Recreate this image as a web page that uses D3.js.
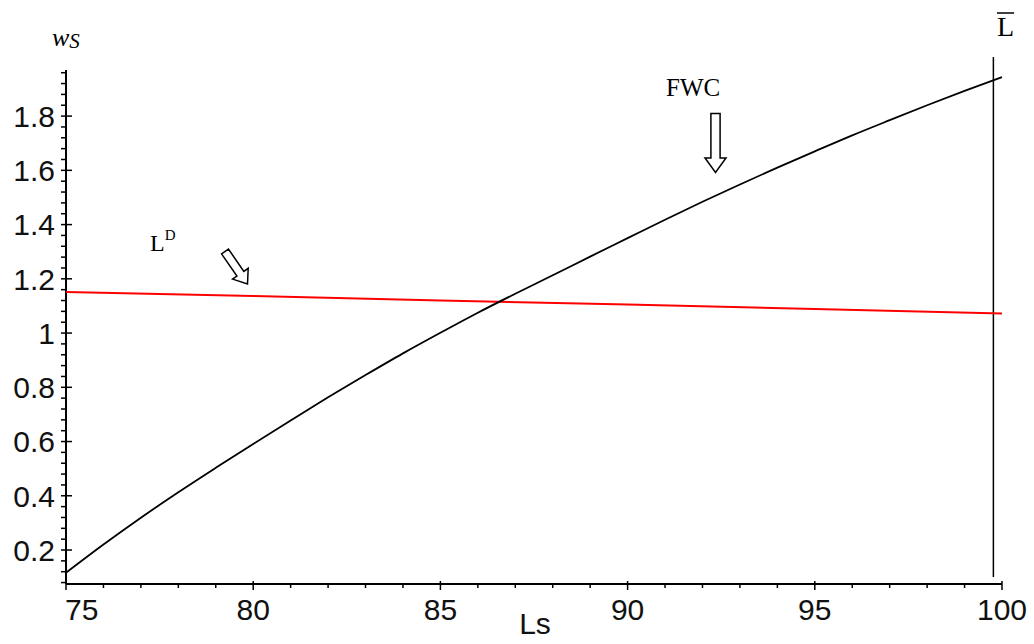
<!DOCTYPE html>
<html>
<head>
<meta charset="utf-8">
<script src="https://cdn.jsdelivr.net/npm/d3@7"></script>
<style>
  html, body { margin: 0; padding: 0; background: #fff; }
  svg { display: block; }
  .tick-label { font-family: "Liberation Sans", Arial, sans-serif; font-size: 30px; fill: #111; }
  .serif { font-family: "Liberation Serif", "Times New Roman", serif; fill: #000; }
</style>
</head>
<body>
<svg id="chart" width="1034" height="644"></svg>
<script>
// ---- data ----
const lsValues = [75,76,77,78,79,80,81,82,83,84,85,86,87,88,89,90,91,92,93,94,95,96,97,98,99,100];
const fwcValues = [0.116,0.220,0.319,0.413,0.503,0.591,0.678,0.763,0.845,0.925,1.001,1.075,1.145,
                   1.213,1.282,1.350,1.418,1.484,1.548,1.610,1.670,1.729,1.785,1.840,1.893,1.944];
const ldLs = [75, 80, 85, 90, 95, 100];
const ldValues = [1.151, 1.137, 1.120, 1.105, 1.089, 1.072];
const lBar = 99.77;
const xTickValues = [75, 80, 85, 90, 95, 100];
const yTickValues = [0.2, 0.4, 0.6, 0.8, 1, 1.2, 1.4, 1.6, 1.8];
const yTickLabels = ["0.2", "0.4", "0.6", "0.8", "1", "1.2", "1.4", "1.6", "1.8"];

// ---- layout ----
const svg = d3.select("#chart");
const pLeft = 66, pRight = 1002, pTop = 70, pBottom = 584;
const x = d3.scaleLinear().domain([75, 100]).range([pLeft, pRight]);
const y = d3.scaleLinear().domain([0.0747, 1.97]).range([pBottom, pTop]);

// minor ticks
const xMinor = d3.range(76, 100, 1).filter(v => v % 5 !== 0);
const yMinor = d3.range(0.08, 1.97, 0.04).filter(v => Math.abs(v / 0.2 - Math.round(v / 0.2)) > 1e-6);

const axes = svg.append("g");

// x axis
const xAxis = axes.append("g").attr("transform", `translate(0,${pBottom})`);
xAxis.append("line").attr("x1", pLeft).attr("x2", pRight).attr("stroke", "#000").attr("stroke-width", 2);
xAxis.selectAll("line.minor").data(xMinor).join("line").attr("class", "minor")
  .attr("x1", d => x(d)).attr("x2", d => x(d)).attr("y1", 0).attr("y2", 4)
  .attr("stroke", "#000").attr("stroke-width", 1.5);
xAxis.selectAll("line.major").data(xTickValues).join("line").attr("class", "major")
  .attr("x1", d => x(d)).attr("x2", d => x(d)).attr("y1", -3).attr("y2", 6)
  .attr("stroke", "#000").attr("stroke-width", 1.5);
xAxis.selectAll("text").data(xTickValues).join("text").attr("class", "tick-label")
  .attr("x", d => d === 75 ? x(d) - 1 : x(d))
  .attr("y", 36)
  .attr("text-anchor", d => d === 75 ? "start" : "middle")
  .text(d => d);

// y axis
const yAxis = axes.append("g").attr("transform", `translate(${pLeft},0)`);
yAxis.append("line").attr("y1", pTop).attr("y2", pBottom).attr("stroke", "#000").attr("stroke-width", 2);
yAxis.selectAll("line.minor").data(yMinor).join("line").attr("class", "minor")
  .attr("x1", -5).attr("x2", 0).attr("y1", d => y(d)).attr("y2", d => y(d))
  .attr("stroke", "#000").attr("stroke-width", 1.5);
yAxis.selectAll("line.major").data(yTickValues).join("line").attr("class", "major")
  .attr("x1", -5).attr("x2", 6).attr("y1", d => y(d)).attr("y2", d => y(d))
  .attr("stroke", "#000").attr("stroke-width", 1.5);
yAxis.selectAll("text").data(yTickValues).join("text").attr("class", "tick-label")
  .attr("x", -11).attr("y", d => y(d)).attr("dy", "0.36em")
  .attr("text-anchor", "end")
  .text((d, i) => yTickLabels[i]);

// axis titles
svg.append("text").attr("class", "tick-label").attr("x", 535).attr("y", 634)
  .attr("text-anchor", "middle").text("Ls");
const wt = svg.append("text").attr("class", "serif").attr("x", 52).attr("y", 46).attr("font-style", "italic");
wt.append("tspan").attr("font-size", 26).text("w");
wt.append("tspan").attr("font-size", 21).attr("dy", 2).text("S");

// vertical L-bar line
svg.append("line").attr("x1", x(lBar)).attr("x2", x(lBar)).attr("y1", 57).attr("y2", 577)
  .attr("stroke", "#000").attr("stroke-width", 1.5);
const lbt = svg.append("text").attr("class", "serif").attr("x", 997).attr("y", 36)
  .attr("font-size", 28).text("L");
const bb = lbt.node().getBBox();
svg.append("line").attr("x1", bb.x).attr("x2", bb.x + bb.width).attr("y1", 13).attr("y2", 13)
  .attr("stroke", "#000").attr("stroke-width", 1.5);

// series
svg.append("path").datum(ldLs.map((d, i) => [d, ldValues[i]]))
  .attr("fill", "none").attr("stroke", "#ff0000").attr("stroke-width", 2)
  .attr("d", d3.line().x(d => x(d[0])).y(d => y(d[1])));
svg.append("path").datum(lsValues.map((d, i) => [d, fwcValues[i]]))
  .attr("fill", "none").attr("stroke", "#000").attr("stroke-width", 1.8)
  .attr("d", d3.line().curve(d3.curveMonotoneX).x(d => x(d[0])).y(d => y(d[1])));

// annotations
function arrow(tail, tip, sh, hh, hl) {
  const dx = tip[0] - tail[0], dy = tip[1] - tail[1];
  const L = Math.hypot(dx, dy), ux = dx / L, uy = dy / L, px = -uy, py = ux;
  const b = [tip[0] - ux * hl, tip[1] - uy * hl];
  const pts = [
    [tail[0] + px * sh, tail[1] + py * sh],
    [b[0] + px * sh, b[1] + py * sh],
    [b[0] + px * hh, b[1] + py * hh],
    tip,
    [b[0] - px * hh, b[1] - py * hh],
    [b[0] - px * sh, b[1] - py * sh],
    [tail[0] - px * sh, tail[1] - py * sh]
  ];
  svg.append("polygon").attr("points", pts.map(p => p.join(",")).join(" "))
    .attr("fill", "#fff").attr("stroke", "#000").attr("stroke-width", 1.5)
    .attr("stroke-linejoin", "miter");
}
svg.append("text").attr("class", "serif").attr("x", 666).attr("y", 96).attr("font-size", 25).text("FWC");
arrow([715.5, 113.5], [715.5, 172.5], 4.6, 10.5, 14.5);

const ldt = svg.append("text").attr("class", "serif").attr("x", 150).attr("y", 251);
ldt.append("tspan").attr("font-size", 24).text("L");
ldt.append("tspan").attr("font-size", 15).attr("dy", -11).text("D");
arrow([225, 251.5], [247.5, 284], 4.2, 9.5, 12.5);
</script>
</body>
</html>
